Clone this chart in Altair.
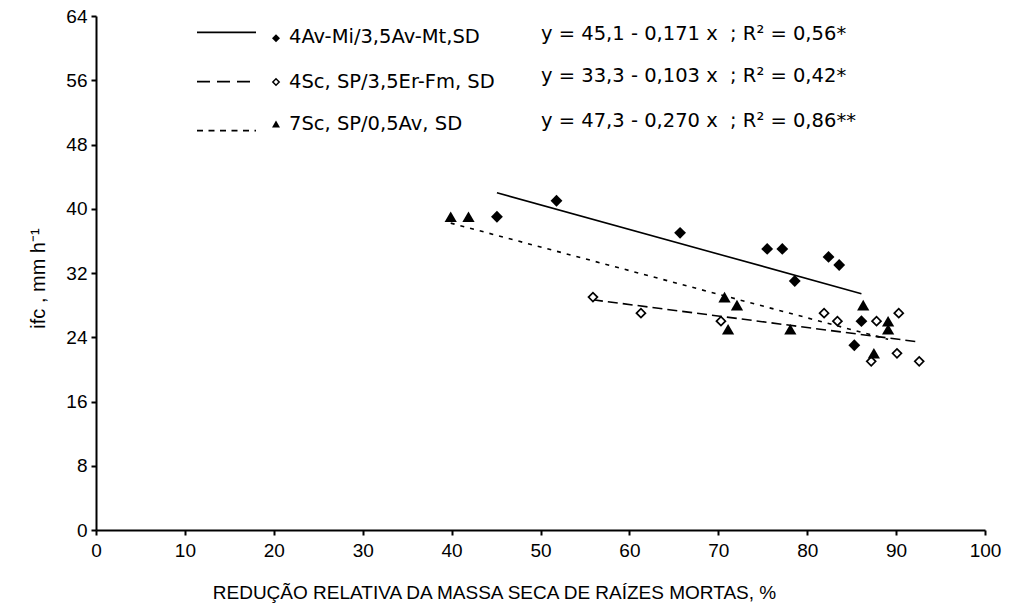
import altair as alt
import pandas as pd

# ---- data ----
x_ticks = [0, 10, 20, 30, 40, 50, 60, 70, 80, 90, 100]
y_ticks = [0, 8, 16, 24, 32, 40, 48, 56, 64]

s1_x = [45.1, 51.8, 65.7, 75.5, 77.2, 82.4, 83.6, 78.6, 86.1, 85.3]
s1_y = [39, 41, 37, 35, 35, 34, 33, 31, 26, 23]

s2_x = [55.9, 61.3, 70.3, 81.9, 83.4, 87.8, 90.3, 87.2, 90.1, 92.6]
s2_y = [29, 27, 26, 27, 26, 26, 27, 21, 22, 21]

s3_x = [39.9, 41.9, 70.7, 72.1, 71.1, 78.1, 86.3, 89.1, 89.1, 87.5]
s3_y = [39, 39, 29, 28, 25, 25, 28, 26, 25, 22]

series_labels = ["4Av-Mi/3,5Av-Mt,SD", "4Sc, SP/3,5Er-Fm, SD", "7Sc, SP/0,5Av, SD"]
equations = [
    "y = 45,1 - 0,171 x\u00a0\u00a0; R\u00b2 = 0,56*",
    "y = 33,3 - 0,103 x\u00a0\u00a0; R\u00b2 = 0,42*",
    "y = 47,3 - 0,270 x\u00a0\u00a0; R\u00b2 = 0,86**",
]
x_title = "REDUÇÃO RELATIVA DA MASSA SECA DE RAÍZES MORTAS, %"
y_title = "ifc , mm h\u207b\u00b9"

FONT = "Liberation Sans"
LEG_FONT = "DejaVu Sans"

X = alt.X(
    "x:Q",
    scale=alt.Scale(domain=[0, 100], nice=False, zero=False),
    axis=alt.Axis(
        values=x_ticks, title=x_title, grid=False, labelFlush=False,
        labelOverlap=False, tickSize=5, tickWidth=2, domainWidth=2,
        labelPadding=6, titlePadding=23, labelFontSize=19, titleFontSize=19,
        titleX=398,
    ),
)
Y = alt.Y(
    "y:Q",
    scale=alt.Scale(domain=[0, 64], nice=False, zero=False),
    axis=alt.Axis(
        values=y_ticks, title=y_title, grid=False, labelOverlap=False,
        tickSize=5, tickWidth=2, domainWidth=2, labelPadding=4,
        titlePadding=17, labelFontSize=19, titleFontSize=20, titleY=262,
    ),
)

d1 = pd.DataFrame({"x": s1_x, "y": s1_y})
d2 = pd.DataFrame({"x": s2_x, "y": s2_y})
d3 = pd.DataFrame({"x": s3_x, "y": s3_y})

line1 = alt.Chart(d1).transform_regression("x", "y").mark_line(
    color="black", strokeWidth=1.6).encode(x=X, y=Y)
line2 = alt.Chart(d2).transform_regression("x", "y").mark_line(
    color="black", strokeWidth=1.6, strokeDash=[10, 5]).encode(x=X, y=Y)
line3 = alt.Chart(d3).transform_regression("x", "y").mark_line(
    color="black", strokeWidth=1.6, strokeDash=[4, 6]).encode(x=X, y=Y)

pts1 = alt.Chart(d1).mark_point(
    shape="diamond", filled=True, size=140, color="black", opacity=1
).encode(x=X, y=Y)
pts2 = alt.Chart(d2).mark_point(
    shape="diamond", size=80, fill="white", stroke="black", strokeWidth=1.7,
    opacity=1, fillOpacity=1, strokeOpacity=1
).encode(x=X, y=Y)
pts3 = alt.Chart(d3).mark_point(
    shape="triangle-up", filled=True, size=150, color="black", opacity=1
).encode(x=X, y=Y)

# ---- custom legend (pixel positions inside the plot area) ----
one = pd.DataFrame({"k": [0]})
rule_y = [16.3, 65.7, 114.7]
dashes = [None, [13, 7], [6, 5.5]]
mark_y = [22.3, 66, 108]
label_y = [21, 65.7, 108.3]
eq_y = [17.5, 59.5, 105]

legend_layers = []
for i in range(3):
    kw = dict(color="black", strokeWidth=1.7)
    if dashes[i] is not None:
        kw["strokeDash"] = dashes[i]
    legend_layers.append(
        alt.Chart(one).mark_rule(**kw).encode(
            x=alt.value(101), x2=alt.value(160), y=alt.value(rule_y[i]))
    )
legend_layers.append(
    alt.Chart(one).mark_point(shape="diamond", filled=True, size=64,
                              color="black", opacity=1)
    .encode(x=alt.value(180), y=alt.value(mark_y[0]))
)
legend_layers.append(
    alt.Chart(one).mark_point(shape="diamond", size=40, fill="white",
                              stroke="black", strokeWidth=1.5, opacity=1)
    .encode(x=alt.value(180), y=alt.value(mark_y[1]))
)
legend_layers.append(
    alt.Chart(one).mark_point(shape="triangle-up", filled=True, size=64,
                              color="black", opacity=1)
    .encode(x=alt.value(180), y=alt.value(mark_y[2]))
)
for i in range(3):
    legend_layers.append(
        alt.Chart(pd.DataFrame({"t": [series_labels[i]]})).mark_text(
            align="left", baseline="middle", font=LEG_FONT, fontSize=19.5,
            color="black")
        .encode(text="t:N", x=alt.value(193), y=alt.value(label_y[i]))
    )
    legend_layers.append(
        alt.Chart(pd.DataFrame({"t": [equations[i]]})).mark_text(
            align="left", baseline="middle", font=LEG_FONT, fontSize=19.5,
            color="black")
        .encode(text="t:N", x=alt.value(445), y=alt.value(eq_y[i]))
    )

chart = alt.layer(
    line1, line2, line3, pts1, pts2, pts3, *legend_layers
).properties(
    width=889, height=514,
    autosize=alt.AutoSizeParams(type="none"),
    padding={"left": 96, "top": 16, "right": 25, "bottom": 77},
    background="white",
).configure_view(stroke=None).configure_axis(
    labelFont=FONT, titleFont=FONT, labelColor="black", titleColor="black",
    domainColor="black", tickColor="black", titleFontWeight="normal",
)

chart.save("out.html", embed_options={"renderer": "svg", "actions": False})
